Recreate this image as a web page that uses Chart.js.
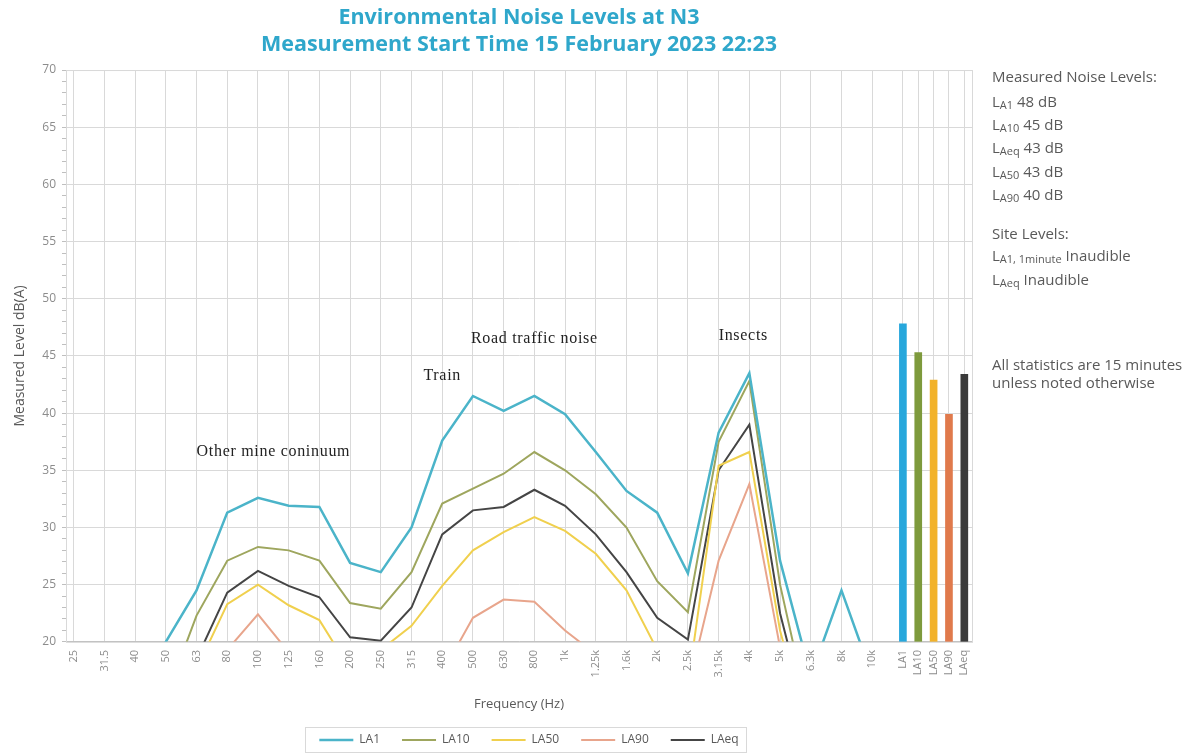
<!DOCTYPE html>
<html>
<head>
<meta charset="utf-8">
<script src="https://cdn.jsdelivr.net/npm/chart.js@4"></script>
<style>
  html, body { margin: 0; padding: 0; background: #fff; }
  #wrap { width: 1196px; height: 756px; position: relative; }
</style>
</head>
<body>
<div id="wrap"><canvas id="c"></canvas></div>
<script>
// frequency bands (1/3 octave) and the overall statistics columns
const freqLabels = ['25','31.5','40','50','63','80','100','125','160','200','250','315','400','500','630','800','1k','1.25k','1.6k','2k','2.5k','3.15k','4k','5k','6.3k','8k','10k'];
const statLabels = ['LA1','LA10','LA50','LA90','LAeq'];

// spectrum values dB(A) (values under 20 fall below the axis)
const la1  = [12, 14, 15, 20, 24.5, 31.3, 32.6, 31.9, 31.8, 26.9, 26.1, 30.0, 37.6, 41.5, 40.2, 41.5, 39.9, 36.6, 33.2, 31.3, 26.0, 38.3, 43.5, 27.1, 17, 24.5, 17];
const la10 = [10, 12, 13, 15.1, 22.3, 27.1, 28.3, 28.0, 27.1, 23.4, 22.9, 26.1, 32.1, 33.4, 34.7, 36.6, 35.0, 32.9, 30.0, 25.3, 22.6, 37.5, 42.8, 25, 13, 14, 12];
const la50 = [8, 9, 11, 13, 17.6, 23.3, 25.0, 23.2, 21.9, 17.6, 19.3, 21.4, 24.9, 28.0, 29.6, 30.9, 29.7, 27.7, 24.5, 19.3, 16.2, 35.4, 36.6, 21, 11, 10, 9];
const la90 = [6, 7, 8, 10, 13, 19.3, 22.4, 19.1, 16, 14, 15, 16, 17.3, 22.1, 23.7, 23.5, 21.0, 18.9, 17, 15, 15.9, 27.1, 33.8, 19.5, 9, 8, 7];
const laeq = [9, 11, 12, 15, 18.5, 24.3, 26.2, 24.9, 23.9, 20.4, 20.1, 23.0, 29.4, 31.5, 31.8, 33.3, 31.9, 29.4, 26.1, 22.1, 20.2, 35.0, 39.0, 22.5, 12, 11, 10];

// overall levels (bars)
const statValues = [47.8, 45.3, 42.9, 39.9, 43.4];
const statColors = ['#27a7dc', '#7e9a3c', '#f2b22a', '#e07a4c', '#3a3a3a'];

const lineColors = ['#4bb4c9', '#9ea65e', '#f0d04e', '#e8a58c', '#454545'];

// side notes
const noteLines = [
  { y: 78,  parts: [['Measured Noise Levels:']] },
  { y: 103, parts: [['L'], ['A1', 1], [' 48 dB']] },
  { y: 126, parts: [['L'], ['A10', 1], [' 45 dB']] },
  { y: 149, parts: [['L'], ['Aeq', 1], [' 43 dB']] },
  { y: 173, parts: [['L'], ['A50', 1], [' 43 dB']] },
  { y: 196, parts: [['L'], ['A90', 1], [' 40 dB']] },
  { y: 235, parts: [['Site Levels:']] },
  { y: 257, parts: [['L'], ['A1, 1minute', 1], [' Inaudible']] },
  { y: 281, parts: [['L'], ['Aeq', 1], [' Inaudible']] },
  { y: 366, parts: [['All statistics are 15 minutes']] },
  { y: 384, parts: [['unless noted otherwise']] }
];

// source annotations in the plot
const notes = [
  { text: 'Other mine coninuum', freq: '63',    y: 36.6, align: 'left' },
  { text: 'Train',               freq: '400',   y: 43.3, align: 'center' },
  { text: 'Road traffic noise',  freq: '800',   y: 46.5, align: 'center' },
  { text: 'Insects',             freq: '3.15k', y: 46.8, align: 'left' }
];

// each band takes two slots, each statistic column one slot
const labels = [];
freqLabels.forEach(f => { labels.push(f); labels.push(''); });
statLabels.forEach(s => labels.push(s));

function spread(arr) {
  const out = [];
  arr.forEach(v => { out.push(v); out.push(null); });
  statLabels.forEach(() => out.push(null));
  return out;
}
const pad = new Array(freqLabels.length * 2).fill(null);

const series = [['LA1', la1], ['LA10', la10], ['LA50', la50], ['LA90', la90], ['LAeq', laeq]];
const datasets = series.map((s, i) => ({
  type: 'line', label: s[0], data: spread(s[1]),
  borderColor: lineColors[i], backgroundColor: lineColors[i],
  borderWidth: i === 0 ? 2.5 : 2, pointRadius: 0, tension: 0, spanGaps: true, order: 1
}));
datasets.push({
  type: 'bar', label: 'stats', data: pad.concat(statValues),
  backgroundColor: pad.map(() => 'transparent').concat(statColors),
  barThickness: 7, order: 2
});

const sideText = {
  id: 'sideText',
  afterLayout(chart) {
    // legend sits a little right of the plot centre
    chart.legend.left += 10;
    chart.legend.right += 10;
  },
  afterDraw(chart) {
    const ctx = chart.ctx;
    const area = chart.chartArea;
    ctx.save();
    ctx.fillStyle = '#595959';
    ctx.textBaseline = 'middle';
    noteLines.forEach(line => {
      let x = 992;
      line.parts.forEach(p => {
        if (p[1]) {
          ctx.font = '11px "Open Sans"';
          ctx.fillText(p[0], x, line.y + 3);
        } else {
          ctx.font = '15px "Open Sans"';
          ctx.fillText(p[0], x, line.y);
        }
        x += ctx.measureText(p[0]).width;
      });
    });

    // annotations
    const xs = chart.scales.x, ys = chart.scales.y;
    ctx.fillStyle = '#222';
    ctx.font = '16px "Liberation Serif"';
    ctx.letterSpacing = '0.7px';
    notes.forEach(n => {
      ctx.textAlign = n.align;
      ctx.fillText(n.text, xs.getPixelForValue(labels.indexOf(n.freq)), ys.getPixelForValue(n.y));
    });
    ctx.letterSpacing = '0px';

    // frame round the plot
    ctx.strokeStyle = '#d9d9d9';
    ctx.lineWidth = 1;
    ctx.strokeRect(area.left + 0.5, area.top + 0.5, area.right - area.left, area.bottom - area.top);

    // box round the legend
    const boxes = chart.legend.legendHitBoxes;
    if (boxes && boxes.length) {
      const l = Math.min(...boxes.map(b => b.left)) - 14;
      const r = Math.max(...boxes.map(b => b.left + b.width)) + 8;
      const t = boxes[0].top - 7;
      ctx.strokeStyle = '#d9d9d9';
      ctx.strokeRect(Math.round(l) + 0.5, Math.round(t) + 0.5, Math.round(r - l), 25);
    }
    ctx.restore();
  }
};

new Chart(document.getElementById('c'), {
  type: 'bar',
  data: { labels: labels, datasets: datasets },
  options: {
    responsive: true, maintainAspectRatio: false, animation: false,
    layout: { padding: { left: 0, right: 224, top: 0, bottom: 0 } },
    plugins: {
      title: {
        display: true, fullSize: false,
        text: ['Environmental Noise Levels at N3', 'Measurement Start Time 15 February 2023 22:23'],
        color: '#2fa7cb', font: { family: 'Open Sans', size: 21.5, weight: 'bold', lineHeight: 1.28 },
        padding: { top: 4, bottom: 11 }
      },
      legend: {
        position: 'bottom', fullSize: false,
        labels: {
          filter: item => item.datasetIndex < 5,
          usePointStyle: true, pointStyle: 'line', pointStyleWidth: 34,
          color: '#595959', font: { family: 'Open Sans', size: 12 }, padding: 22
        }
      },
      tooltip: { enabled: false }
    },
    scales: {
      x: {
        offset: true,
        afterFit: s => { s.height += 3; },
        grid: {
          offset: false, drawTicks: false,
          color: c => labels[c.index] ? '#d9d9d9' : 'transparent'
        },
        border: { color: '#bfbfbf' },
        ticks: {
          autoSkip: false, maxRotation: 90, minRotation: 90, padding: 8,
          color: '#8c8c8c', font: { family: 'Open Sans', size: 11 }
        },
        title: { display: true, text: 'Frequency (Hz)', color: '#595959', font: { family: 'Open Sans', size: 13 }, padding: { top: 8, bottom: 0 } }
      },
      y: {
        min: 20, max: 70,
        afterFit: s => { s.width = 66; },
        grid: {
          color: c => (c.tick && c.tick.value % 5 === 0) ? '#d9d9d9' : 'transparent',
          tickColor: '#bfbfbf', tickLength: 4
        },
        border: { color: '#bfbfbf' },
        ticks: {
          stepSize: 1, autoSkip: false, padding: 6,
          color: '#8c8c8c', font: { family: 'Open Sans', size: 12 },
          callback: v => v % 5 === 0 ? v : ''
        },
        title: { display: true, text: 'Measured Level dB(A)', color: '#595959', font: { family: 'Open Sans', size: 14 }, padding: { top: 12, bottom: 0 } }
      }
    }
  },
  plugins: [sideText]
});
</script>
</body>
</html>
